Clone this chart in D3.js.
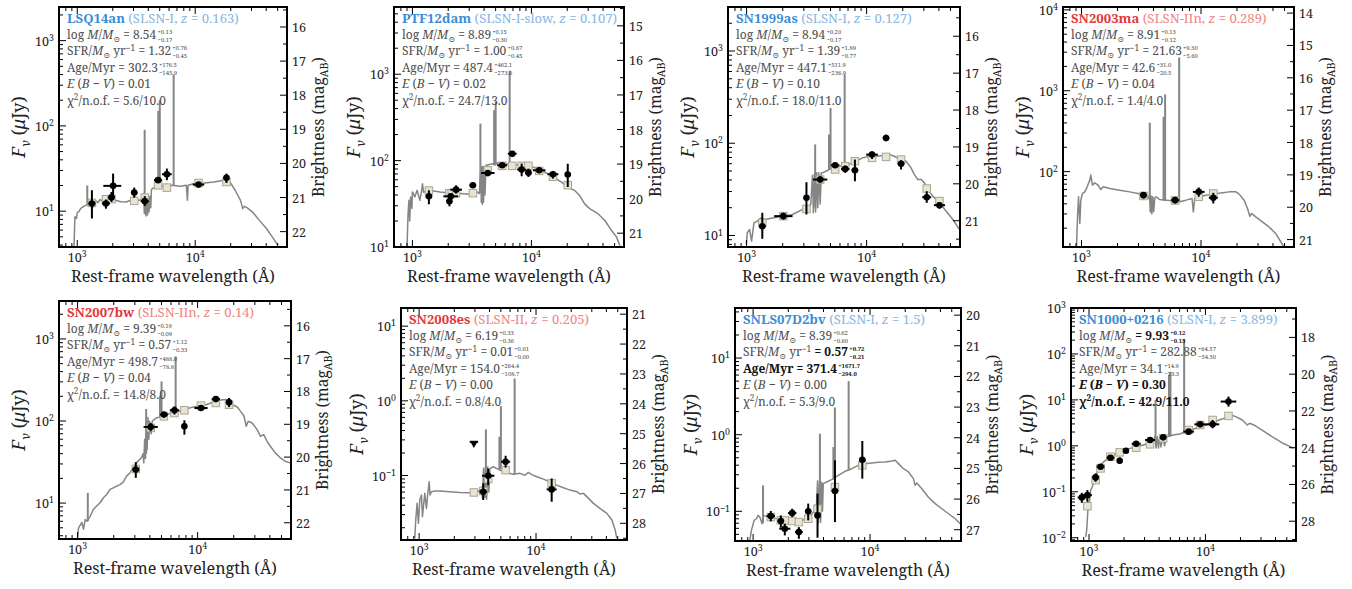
<!DOCTYPE html>
<html>
<head>
<meta charset="utf-8">
<script src="https://cdn.jsdelivr.net/npm/d3@7"></script>
<style>
  body { margin: 0; background: #fff; }
  svg { display: block; }
  text { font-family: "Noto Serif", "DejaVu Serif", serif; }
</style>
</head>
<body>
<svg id="chart" width="1352" height="589"></svg>
<script>
// ---------------- data ----------------
// rest-frame wavelength range shared by all panels (Angstrom)
const WAVE_RANGE = [700, 60000];

// Model SEDs: [wavelength (A), F_nu (uJy)]
const lsq14anSpec = [[938,3.8],[955,8.6],[985,8.2],[1000,9.6],[1040,10.0],[1066,10.7],[1110,11.2],[1180,11.7],[1260,12.0],[1290,12.3],[1350,11.0],[1419,13.4],[1500,12.6],[1561,13.7],[1650,13.0],[1773,13.4],[2100,13.4],[2350,12.9],[2596,12.8],[2949,13.7],[3349,13.4],[3614,14.1],[3660,16.1],[3700,9.4],[3760,15.5],[3820,8.8],[3880,15.0],[3940,9.0],[4000,14.5],[4060,9.8],[4130,15],[4200,11],[4250,17.6],[4319,18.4],[4603,19.3],[5200,19.6],[6326,20.1],[7500,19.6],[8400,20.1],[8590,13.4],[8700,20.1],[9874,21.1],[12000,21.4],[14460,22.0],[17400,23.1],[18660,23.1],[19870,21.6],[21800,17.6],[24200,13.4],[25300,10.7],[26200,11.4],[27500,11.0],[31000,9.6],[35000,7.8],[40000,6.3],[45000,5.0],[50000,4.0]];
const ptf12damSpec = [[901,10],[919,24.3],[935,34.7],[949,20],[965,38],[990,28],[1000,43.4],[1047,38],[1095,45.3],[1154,34.7],[1192,44],[1215,54],[1240,43],[1314,44.5],[1497,44.5],[1706,43.4],[2071,42.3],[2517,41.5],[3060,40.8],[3486,43.4],[3650,41.5],[3760,84.6],[3790,33],[3830,84],[3870,31],[3910,86],[3960,33],[4010,85],[4070,40],[4154,88.3],[4522,90.8],[5150,94],[5865,92.3],[6680,90.8],[8120,88.3],[9250,88.3],[10190,84.6],[11990,77.3],[14580,67.6],[17730,56.6],[20190,49.5],[23000,45.3],[25350,39.7],[27940,31.8],[30820,27.8],[36260,24.3],[41300,20.4],[47010,15.6],[51850,13.1],[55340,10.4]];
const sn1999asSpec = [[994,8.0],[1013,10.7],[1059,11.6],[1101,8.7],[1152,13.7],[1228,14.3],[1309,15.5],[1442,14.9],[1638,15.5],[1985,16.2],[2407,16.9],[2918,19.1],[3213,19.9],[3428,21.7],[3540,45],[3600,17.6],[3680,47],[3760,18],[3840,48],[3920,20],[4000,48],[4100,22],[4200,48],[4290,47.7],[4570,49.7],[5200,54.1],[5910,56.4],[6720,57.8],[7640,61.2],[9270,69.4],[10520,72.3],[11970,72.3],[13610,73.5],[15460,75.3],[17020,72.3],[18750,67.6],[21320,63.9],[23460,54],[25010,45.7],[26690,40.4],[28460,40.4],[30330,37.2],[32340,31.5],[35620,26.7],[40450,22.6],[46030,18.3],[52360,14.9],[59430,11.6]];
const sn2003maSpec = [[908,11.7],[926,27.6],[944,48.9],[968,22.9],[987,44.4],[1019,53.7],[1066,56.2],[1115,64.9],[1173,78.5],[1196,90.6],[1235,68.1],[1291,72.8],[1377,68.1],[1450,60],[1516,64.9],[1722,61.9],[2086,59],[2529,56.2],[2966,53.7],[3266,51.2],[3526,48.9],[3641,46.6],[3710,52],[3760,31.8],[3820,50],[3880,30],[3950,49],[4020,32],[4100,47],[4217,48.9],[4497,45.3],[5106,44.4],[5803,43.6],[6595,42.4],[7495,44.4],[8410,46.6],[8630,31.8],[8850,46.6],[9680,48.9],[11000,51.2],[12500,52.7],[15170,54.8],[17240,56.2],[19590,56.2],[20860,52.7],[22950,44.4],[24480,35],[25600,28.1],[26610,30.4],[28710,27.6],[32630,23.9],[37080,20.7],[42140,17.2],[46420,13.6],[49450,11.7]];
const sn2007bwSpec = [[1000,3.8],[1019,5.0],[1086,5.8],[1121,4.8],[1157,6.3],[1200,6.0],[1273,6.9],[1356,8.4],[1444,9.2],[1539,10.1],[1640,11.6],[1747,12.7],[1862,14.7],[1984,15.3],[2114,16.1],[2253,16.8],[2400,18],[2558,21.3],[2725,23.3],[2904,26.8],[3094,30.9],[3401,35.6],[3511,40],[3560,30.9],[3620,60],[3680,35],[3740,100],[3800,45],[3860,110],[3920,60],[3986,99.3],[4100,70],[4200,100],[4526,109],[5140,114],[5836,123],[6627,129],[7525,135],[8545,144],[10320,154],[11720,158],[14180,174],[16100,182],[17700,182],[19460,158],[21410,148],[22810,131],[24300,116],[25410,86.3],[26380,99.3],[28490,94.7],[31330,78.5],[33370,65.2],[35540,68.2],[37920,56.6],[40360,49.3],[44380,40.9],[48820,35.6],[53690,32.4],[59050,30.9]];
const sn2008esSpec = [[918,0.0144],[936,0.0254],[961,0.0424],[987,0.0229],[1013,0.047],[1047,0.0548],[1068,0.0281],[1118,0.0577],[1156,0.0363],[1179,0.052],[1218,0.0826],[1240,0.055],[1276,0.0607],[1363,0.0619],[1503,0.0619],[1832,0.0607],[2232,0.0594],[2719,0.0589],[3100,0.0607],[3311,0.0638],[3422,0.07],[3480,0.05],[3560,0.125],[3620,0.052],[3700,0.13],[3780,0.048],[3860,0.13],[3950,0.06],[4036,0.124],[4310,0.131],[4914,0.118],[5610,0.109],[6398,0.104],[7295,0.107],[8054,0.101],[8598,0.11],[9183,0.103],[10140,0.0964],[11560,0.0896],[13180,0.0826],[15030,0.0745],[17140,0.0686],[19540,0.0638],[22320,0.0607],[23840,0.0565],[25470,0.0577],[28120,0.0494],[30980,0.0424],[35380,0.036],[40350,0.0311],[44540,0.0254],[47550,0.0186],[49130,0.0144]];
const snls07d2bvSpec = [[936,0.0417],[968,0.0564],[1020,0.0762],[1068,0.08],[1104,0.0885],[1141,0.0841],[1194,0.0689],[1218,0.0885],[1301,0.0859],[1436,0.0841],[1749,0.0762],[2131,0.074],[2596,0.0762],[2960,0.08],[3379,0.103],[3490,0.126],[3560,0.25],[3620,0.07],[3700,0.24],[3780,0.072],[3860,0.24],[3920,0.1],[3981,0.23],[4254,0.241],[4692,0.259],[5354,0.295],[6109,0.333],[6970,0.36],[7952,0.398],[9073,0.419],[10350,0.428],[11810,0.436],[13470,0.44],[15370,0.454],[16400,0.463],[17500,0.419],[19310,0.36],[21320,0.326],[23520,0.267],[24300,0.218],[25120,0.234],[27720,0.197],[31620,0.153],[36080,0.126],[41160,0.108],[46960,0.093],[53570,0.08],[59050,0.0689]];
const sn1000Spec = [[937,0.0104],[955,0.0146],[981,0.0471],[1007,0.0605],[1033,0.109],[1067,0.129],[1103,0.165],[1139,0.195],[1177,0.273],[1216,0.323],[1256,0.382],[1341,0.452],[1432,0.507],[1528,0.58],[1741,0.686],[1983,0.811],[2258,0.881],[2574,0.959],[2931,1.04],[3342,1.17],[3565,1.23],[3687,1.6],[3760,0.9],[3850,1.6],[3950,0.9],[4050,1.6],[4150,0.95],[4300,1.65],[4450,1.0],[4630,1.58],[5276,1.72],[6010,1.81],[6850,2.04],[7800,2.29],[8890,2.53],[10130,2.85],[11540,3.2],[13150,3.66],[14990,4.12],[16510,4.71],[18230,4.33],[20760,3.66],[22900,2.85],[23970,3.1],[26080,2.85],[30680,2.21],[37320,1.58],[45390,1.17],[53460,0.959],[57030,0.881]];

// Nebular emission lines: [wavelength, continuum level, peak]
const lsq14anLines = [[1216,11.8,20],[3727,14,90],[4861,19,150],[5007,19,200],[6563,20,400]];
const ptf12damLines = [[3727,42,268],[4861,88,383],[5007,88,478],[6563,90,1100]];
const sn1999asLines = [[3727,20,97],[4861,52,124],[5007,53,241],[6563,57,554]];
const sn2003maLines = [[3727,47,402],[4861,44,476],[5007,44,901],[6563,42,2580]];
const sn2007bwLines = [[1216,6,13.3],[3727,40,140],[4861,112,200],[5007,112,304],[6563,125,612]];
const sn2008esLines = [[3727,0.05,0.414],[4861,0.12,0.33],[5007,0.12,0.85],[6563,0.104,1.99]];
const snls07d2bvLines = [[1216,0.07,0.218],[3727,0.1,1.03],[4861,0.26,0.69],[5007,0.26,2.26],[6563,0.34,5.0]];
const sn1000Lines = [[3727,1.2,10],[4861,1.6,35],[5007,1.6,41],[6563,2.0,211]];

// Observed photometry: [wavelength, flux, wave low, wave high, flux low, flux high, upper limit]
const lsq14anObs = [[1331,12.3,1242,1427,8.2,17.6],[1750,12.3,1616,1895,10.7,13.7],[1950,14.5,1829,2079,12.8,16.8],[2013,19.8,1664,2360,14.7,27.6],[3040,16.5,2852,3240,14.4,18.9],[3735,13.1,3449,4045,11.5,15.0],[4840,23.1,4469,5242,22.0,24.5],[5750,27.1,5227,6325,23.1,31.6],[10670,20.5,9540,11930,19.3,22.0],[18400,24.6,17440,19410,21.4,27.6]];
const ptf12damObs = [[1375,38.6,1289,1467,31.2,45.3],[2100,38.6,1820,2424,36.5,41],[2046,33.8,1943,2154,29.6,38],[2328,46.1,2078,2608,41.5,51.8],[3220,51.8,3018,3436,48.6,55.1],[4300,71.9,3775,4898,65.9,77.3],[5680,88.3,5154,6259,82.7,93.9],[6900,120,6342,7507,110,129],[8280,78.7,7610,9009,65.9,92.3],[9440,72.6,8846,10070,64.7,80.7],[11620,77.3,10300,13110,72,83],[15170,69.5,13660,16840,61.9,75.9],[20200,68.9,19170,21280,49.5,92]];
const sn1999asObs = [[1352,12.6,1268,1441,9.2,17.6],[2024,16.2,1697,2415,14.9,17.6],[3153,25.6,3006,3307,16.9,37.8],[4100,40.4,3571,4707,37.2,43.8],[5470,57.8,5050,5924,54.1,61.2],[6635,52.7,6126,7186,47.7,57.1],[7990,50.9,7490,8523,38.7,66.5],[11090,75.3,9910,12410,67.6,81.8],[14520,114,13620,15480,105,124],[19370,59.8,18170,20650,51.9,65.5],[31700,26,29080,34560,22.6,30.2],[40450,21.3,36380,44980,19.5,23]];
const sn2003maObs = [[3300,51.2,3096,3518,46.6,54.7],[6070,44.4,5605,6574,40.5,48],[9570,56.2,8552,10710,48.9,63.7],[12670,47.4,11620,13810,40.4,54.7]];
const sn2007bwObs = [[3054,25.6,2849,3274,20.3,31.5],[4065,84.7,3547,4659,75,94.7],[5236,119.7,4839,5666,112,128],[6415,135,5869,7012,120,151],[7760,86.3,7426,8109,68.2,102],[10670,144,9400,12110,136,152],[14190,185,13110,15360,175,196],[18280,169,17260,19360,148,191]];
const sn2008esObs = [[2942,0.283,2709,3195,0.283,0.283,1],[3537,0.0607,3269,3827,0.047,0.0785],[3900,0.0993,3454,4403,0.0745,0.124],[5495,0.153,5028,6006,0.128,0.184],[13610,0.0652,12330,15020,0.0446,0.0914]];
const snls07d2bvObs = [[1417,0.0867,1305,1539,0.074,0.101],[1726,0.0746,1616,1843,0.0611,0.0885],[1867,0.0593,1674,2082,0.0485,0.0689],[2159,0.0949,1988,2345,0.0841,0.108],[2462,0.0536,2282,2657,0.0438,0.0622],[2960,0.1,2790,3140,0.0762,0.126],[3556,0.0885,3364,3759,0.0452,0.17],[5012,0.184,4693,5353,0.0724,0.463],[8590,0.472,8043,9174,0.267,0.828]];
const sn1000Obs = [[867,0.0752,799,941,0.0575,0.0951],[968,0.0846,886,1057,0.0605,0.109],[1139,0.206,1067,1216,0.165,0.251],[1256,0.351,1162,1358,0.32,0.38],[1528,0.552,1413,1652,0.52,0.59],[1833,0.474,1833,1833,0.415,0.561],[2075,0.785,2075,2075,0.74,0.83],[2541,1.11,2327,2775,1.05,1.17],[3342,1.34,3030,3686,1.27,1.41],[4335,1.53,4063,4626,1.45,1.62],[7175,2.04,6464,7964,1.93,2.15],[9015,2.94,8042,10105,2.75,3.1],[11530,2.94,10120,13130,2.41,3.66],[15780,9.2,13530,18400,7.16,11.8]];

// Synthetic model photometry: [wavelength, flux]
const lsq14anSynth = [[1331,12.5],[1750,13.8],[1950,13.8],[3040,13.2],[3735,14.4],[4840,20.1],[5750,18.9],[10670,21.4],[18400,22.0]];
const ptf12damSynth = [[1375,45],[2046,42],[2143,42],[2328,42],[3220,42],[4300,77],[5680,87],[6900,87],[8280,87],[9440,87],[11620,76],[15170,65],[20200,52]];
const sn1999asSynth = [[1352,13.7],[2024,16.2],[3153,19.4],[4100,40.4],[5470,51.9],[6635,56.4],[7990,63.9],[11090,69.4],[14520,71.1],[19370,66.5],[31700,32.3],[40450,23.6]];
const sn2003maSynth = [[3300,50],[6070,44],[9570,48.9],[12670,53.7]];
const sn2007bwSynth = [[3054,26],[4065,82.4],[5236,114],[6415,125],[7760,135],[10670,154],[14190,166],[18280,158]];
const sn2008esSynth = [[2942,0.0594],[3537,0.062],[3900,0.09],[5495,0.118],[13610,0.0785]];
const snls07d2bvSynth = [[1417,0.0841],[1726,0.0762],[1867,0.076],[2159,0.0746],[2462,0.0724],[2960,0.08],[3556,0.108],[5012,0.207],[8590,0.398]];
const sn1000Synth = [[968,0.0486],[1139,0.18],[1256,0.323],[1528,0.58],[1833,0.722],[2541,0.912],[3342,1.08],[4335,1.46],[7175,2.21],[9015,2.85],[11530,3.66],[15780,4.48]];

// Fit results: [value, +err, -err] for mass, SFR, age; value for E(B-V) and chi2
const lsq14anFit = [["8.54","+0.13","−0.17"],["1.32","+0.76","−0.45"],["302.3","+176.5","−145.9"],["0.01"],["5.6/10.0"]];
const ptf12damFit = [["8.89","+0.15","−0.30"],["1.00","+0.87","−0.45"],["487.4","+462.1","−273.6"],["0.02"],["24.7/13.0"]];
const sn1999asFit = [["8.94","+0.20","−0.17"],["1.39","+1.89","−0.77"],["447.1","+511.9","−236.9"],["0.10"],["18.0/11.0"]];
const sn2003maFit = [["8.91","+0.13","−0.12"],["21.63","+9.30","−5.60"],["42.6","+31.0","−20.5"],["0.04"],["1.4/4.0"]];
const sn2007bwFit = [["9.39","+0.19","−0.09"],["0.57","+1.12","−0.33"],["498.7","+488.0","−78.8"],["0.04"],["14.8/8.0"]];
const sn2008esFit = [["6.19","+0.33","−0.36"],["0.01","+0.01","−0.00"],["154.0","+264.4","−108.7"],["0.00"],["0.8/4.0"]];
const snls07d2bvFit = [["8.39","+0.62","−0.60"],["0.57","+0.72","−0.21"],["371.4","+1671.7","−294.0"],["0.00"],["5.3/9.0"]];
const sn1000Fit = [["9.93","+0.12","−0.13"],["282.88","+64.57","−54.50"],["34.1","+14.9","−13.3"],["0.30"],["42.9/11.0"]];

// Objects, classes and redshifts
const names = ["LSQ14an","PTF12dam","SN1999as","SN2003ma","SN2007bw","SN2008es","SNLS07D2bv","SN1000+0216"];
const classes = ["SLSN-I","SLSN-I-slow","SLSN-I","SLSN-IIn","SLSN-IIn","SLSN-II","SLSN-I","SLSN-I"];
const redshifts = ["0.163","0.107","0.127","0.289","0.14","0.205","1.5","3.899"];
// flux axis range of each panel (uJy)
const fluxRanges = [[3.8,2480],[10,6000],[7.5,3000],[11.7,10850],[3.65,2900],[0.0137,17.5],[0.041,45],[0.0085,1000]];
const magSteps = [1,1,1,1,1,1,1,2];

const specs = [lsq14anSpec, ptf12damSpec, sn1999asSpec, sn2003maSpec, sn2007bwSpec, sn2008esSpec, snls07d2bvSpec, sn1000Spec];
const lineSets = [lsq14anLines, ptf12damLines, sn1999asLines, sn2003maLines, sn2007bwLines, sn2008esLines, snls07d2bvLines, sn1000Lines];
const obsSets = [lsq14anObs, ptf12damObs, sn1999asObs, sn2003maObs, sn2007bwObs, sn2008esObs, snls07d2bvObs, sn1000Obs];
const synthSets = [lsq14anSynth, ptf12damSynth, sn1999asSynth, sn2003maSynth, sn2007bwSynth, sn2008esSynth, snls07d2bvSynth, sn1000Synth];
const fits = [lsq14anFit, ptf12damFit, sn1999asFit, sn2003maFit, sn2007bwFit, sn2008esFit, snls07d2bvFit, sn1000Fit];
// which fit lines are rendered heavier: 0 none, 1 value only, 2 whole line
const fitWeights = [[0,0,0,0,0],[0,0,0,0,0],[0,0,0,0,0],[0,0,0,0,0],[0,0,0,0,0],[0,0,0,0,0],[0,1,1,0,0],[1,0,0,2,2]];

// ---------------- layout ----------------
const frames = [
  [59, 7, 228, 240], [394, 7, 230, 240], [728, 7, 232, 240], [1063, 7, 231, 240],
  [59, 301, 232, 238], [401, 308, 226, 232], [735, 308, 226, 233], [1071, 308, 225, 233]
];
const COLORS = {
  I: { strong: "#3a8dd6", light: "#86b8e4" },
  II: { strong: "#e2383c", light: "#ef8585" }
};
const SPEC_COLOR = "#858585", STAT_COLOR = "#4d4d4d", INK = "#222";

const svg = d3.select("#chart");

// Text with italic / super- / subscript runs
function richText(parent, x, y, segs, size, color, anchor) {
  const t = parent.append("text").attr("x", x).attr("y", y)
    .attr("font-size", size).attr("fill", color)
    .attr("text-anchor", anchor || "start");
  let shift = 0;
  segs.forEach(s => {
    const target = s.sup ? -0.38 * size : s.sub ? 0.25 * size : 0;
    const ts = t.append("tspan").text(s.t).attr("dy", target - shift);
    shift = target;
    if (s.i) ts.attr("font-style", "italic");
    if (s.b) ts.attr("font-weight", "bold");
    if (s.sup || s.sub) ts.attr("font-size", size * 0.7);
    if (s.c) ts.attr("fill", s.c);
  });
  return t;
}

// font size at which a run of text spans the given width
function sizeForWidth(segs, width) {
  const t = richText(svg, -2000, -2000, segs, 100, "#000");
  const w = t.node().getBBox().width;
  t.remove();
  return 100 * width / w;
}

const titleSegs = i => {
  const col = classes[i].startsWith("SLSN-II") ? COLORS.II : COLORS.I;
  return [
    { t: names[i], b: 1, c: col.strong },
    { t: " (" + classes[i] + ", ", c: col.light },
    { t: "z", i: 1, c: col.light },
    { t: " = " + redshifts[i] + ")", c: col.light }
  ];
};
const yLabelSegs = [{ t: "F", i: 1 }, { t: "ν", i: 1, sub: 1 }, { t: "  (" }, { t: "μ", i: 1 }, { t: "Jy)" }];
const rLabelSegs = [{ t: "Brightness (mag" }, { t: "AB", sub: 1 }, { t: ")" }];

const LABEL_FONT = sizeForWidth([{ t: "Rest-frame wavelength (Å)" }], 204);
const YLABEL_FONT = sizeForWidth(yLabelSegs, 62);
const RLABEL_FONT = sizeForWidth(rLabelSegs, 140);
const TICK_FONT = sizeForWidth([{ t: "10" }], 14);
const TITLE_FONT = sizeForWidth(titleSegs(0), 172);
const STAT_FONT = sizeForWidth([{ t: "Age/Myr = 302.3" }], 91);
const ERR_FONT = sizeForWidth([{ t: "+176.5" }], 18);

function powLabel(n) {
  return [{ t: "10" }, { t: String(n).replace("-", "−"), sup: 1 }];
}

const toMag = f => 23.9 - 2.5 * Math.log10(f);

names.forEach((name, i) => {
  const [fx, fy, fw, fh] = frames[i];
  const fr = fluxRanges[i];
  const g = svg.append("g");
  const x = d3.scaleLog().domain(WAVE_RANGE).range([fx, fx + fw]);
  const y = d3.scaleLog().domain(fr).range([fy + fh, fy]);
  const mag = d3.scaleLinear().domain([toMag(fr[0]), toMag(fr[1])]).range([fy + fh, fy]);

  const clipId = "clip" + i;
  g.append("clipPath").attr("id", clipId).append("rect")
    .attr("x", fx).attr("y", fy).attr("width", fw).attr("height", fh);
  const plot = g.append("g").attr("clip-path", `url(#${clipId})`);

  // model spectrum
  const line = d3.line().x(d => x(d[0])).y(d => y(d[1]));
  plot.append("path").datum(specs[i]).attr("d", line)
    .attr("fill", "none").attr("stroke", SPEC_COLOR).attr("stroke-width", 1.5)
    .attr("stroke-linejoin", "round");
  // emission lines
  plot.selectAll("line.em").data(lineSets[i]).join("line").attr("class", "em")
    .attr("x1", d => x(d[0])).attr("x2", d => x(d[0]))
    .attr("y1", d => y(d[1])).attr("y2", d => y(d[2]))
    .attr("stroke", SPEC_COLOR).attr("stroke-width", 2);

  // synthetic photometry
  const sq = 7.5;
  plot.selectAll("rect.syn").data(synthSets[i]).join("rect").attr("class", "syn")
    .attr("x", d => x(d[0]) - sq / 2).attr("y", d => y(d[1]) - sq / 2)
    .attr("width", sq).attr("height", sq)
    .attr("fill", "#e9e3d2").attr("stroke", "#aaa494").attr("stroke-width", 1);

  // observed photometry
  const obs = plot.selectAll("g.obs").data(obsSets[i]).join("g").attr("class", "obs");
  obs.append("line")
    .attr("x1", d => x(d[2])).attr("x2", d => x(d[3]))
    .attr("y1", d => y(d[1])).attr("y2", d => y(d[1]))
    .attr("stroke", "#000").attr("stroke-width", 2);
  obs.append("line")
    .attr("x1", d => x(d[0])).attr("x2", d => x(d[0]))
    .attr("y1", d => y(d[4])).attr("y2", d => y(d[5]))
    .attr("stroke", "#000").attr("stroke-width", 2);
  obs.filter(d => !d[6]).append("circle")
    .attr("cx", d => x(d[0])).attr("cy", d => y(d[1])).attr("r", 3.3).attr("fill", "#000");
  obs.filter(d => d[6]).append("path")
    .attr("d", d3.symbol(d3.symbolTriangle, 28)())
    .attr("transform", d => `translate(${x(d[0])},${y(d[1]) + 1.5}) rotate(180)`)
    .attr("fill", "#000");

  // ---- axes ----
  const ax = g.append("g").attr("stroke", "#000").attr("stroke-width", 1);
  // wavelength ticks, bottom and top, pointing inward
  const xTicks = [];
  for (let d = 2; d <= 4; d++) for (let k = 1; k <= 9; k++) {
    const v = k * Math.pow(10, d);
    if (v >= WAVE_RANGE[0] && v <= WAVE_RANGE[1]) xTicks.push([v, k === 1]);
  }
  xTicks.forEach(([v, major]) => {
    const px = x(v), len = major ? 7 : 4;
    ax.append("line").attr("x1", px).attr("x2", px).attr("y1", fy + fh).attr("y2", fy + fh - len);
    ax.append("line").attr("x1", px).attr("x2", px).attr("y1", fy).attr("y2", fy + len);
    if (major) richText(g, px, fy + fh + 15, powLabel(Math.round(Math.log10(v))), TICK_FONT, INK, "middle");
  });

  // flux ticks on the left
  const lo = Math.floor(Math.log10(fr[0])), hi = Math.ceil(Math.log10(fr[1]));
  for (let d = lo; d <= hi; d++) for (let k = 1; k <= 9; k++) {
    const v = k * Math.pow(10, d);
    if (v < fr[0] * 0.999 || v > fr[1] * 1.001) continue;
    const py = y(v), len = k === 1 ? 7 : 4;
    ax.append("line").attr("x1", fx).attr("x2", fx + len).attr("y1", py).attr("y2", py);
    if (k === 1) richText(g, fx - 5, py + 5, powLabel(d), TICK_FONT, INK, "end");
  }

  // magnitude ticks on the right
  const step = magSteps[i];
  const mTop = toMag(fr[1]), mBot = toMag(fr[0]);
  for (let m = Math.ceil(mTop * 2) / 2; m <= mBot; m += 0.5) {
    const isMajor = Math.abs(m / step - Math.round(m / step)) < 1e-6;
    const isMinor = !isMajor && (step === 1 ? true : Math.abs(m - Math.round(m)) < 1e-6);
    if (!isMajor && !isMinor) continue;
    const py = mag(m), len = isMajor ? 7 : 4;
    ax.append("line").attr("x1", fx + fw).attr("x2", fx + fw - len).attr("y1", py).attr("y2", py);
    if (isMajor) g.append("text").attr("x", fx + fw + 5).attr("y", py + 5)
      .attr("font-size", TICK_FONT).attr("fill", INK).text(String(m));
  }

  // frame
  g.append("rect").attr("x", fx).attr("y", fy).attr("width", fw).attr("height", fh)
    .attr("fill", "none").attr("stroke", "#000").attr("stroke-width", 2);

  // axis titles
  richText(g, fx + fw / 2, fy + fh + 35, [{ t: "Rest-frame wavelength (Å)" }], LABEL_FONT, INK, "middle");
  const yOff = fr[0] < 1 ? 38 : 34;   // room for negative exponents
  const yl = g.append("g").attr("transform", `translate(${fx - yOff},${fy + fh / 2}) rotate(-90)`);
  richText(yl, 0, 0, yLabelSegs, YLABEL_FONT, INK, "middle");
  const yr = g.append("g").attr("transform", `translate(${fx + fw + 37},${fy + fh / 2}) rotate(-90)`);
  richText(yr, 0, 0, rLabelSegs, RLABEL_FONT, INK, "middle");

  // title
  richText(g, fx + 8, fy + 16, titleSegs(i), TITLE_FONT, INK);

  // fit summary
  const f = fits[i], w = fitWeights[i];
  const rows = [
    [{ t: "log " }, { t: "M", i: 1 }, { t: "/" }, { t: "M", i: 1 }, { t: "⊙", sub: 1 }, { t: " = " + f[0][0] }],
    [{ t: "SFR/" }, { t: "M", i: 1 }, { t: "⊙", sub: 1 }, { t: " yr" }, { t: "−1", sup: 1 }, { t: " = " + f[1][0] }],
    [{ t: "Age/Myr = " + f[2][0] }],
    [{ t: "E", i: 1 }, { t: " (" }, { t: "B", i: 1 }, { t: " − " }, { t: "V", i: 1 }, { t: ") = " + f[3][0] }],
    [{ t: "χ" }, { t: "2", sup: 1 }, { t: "/n.o.f. = " + f[4][0] }]
  ];
  rows.forEach((segs, r) => {
    const by = fy + 32 + r * 16.4;
    if (w[r] === 2) segs.forEach(s => { s.b = 1; s.c = "#111"; });
    if (w[r] === 1) { const s = segs[segs.length - 1]; s.b = 1; s.c = "#111"; }
    const t = richText(g, fx + 8, by, segs, STAT_FONT, STAT_COLOR);
    if (f[r].length === 3) {
      const ex = fx + 8 + t.node().getBBox().width + 1;
      const col = w[r] ? "#111" : STAT_COLOR;
      const wt = w[r] ? "bold" : null;
      g.append("text").attr("x", ex).attr("y", by - 5).attr("font-size", ERR_FONT)
        .attr("fill", col).attr("font-weight", wt).text(f[r][1]);
      g.append("text").attr("x", ex).attr("y", by + 3).attr("font-size", ERR_FONT)
        .attr("fill", col).attr("font-weight", wt).text(f[r][2]);
    }
  });
});
</script>
</body>
</html>
